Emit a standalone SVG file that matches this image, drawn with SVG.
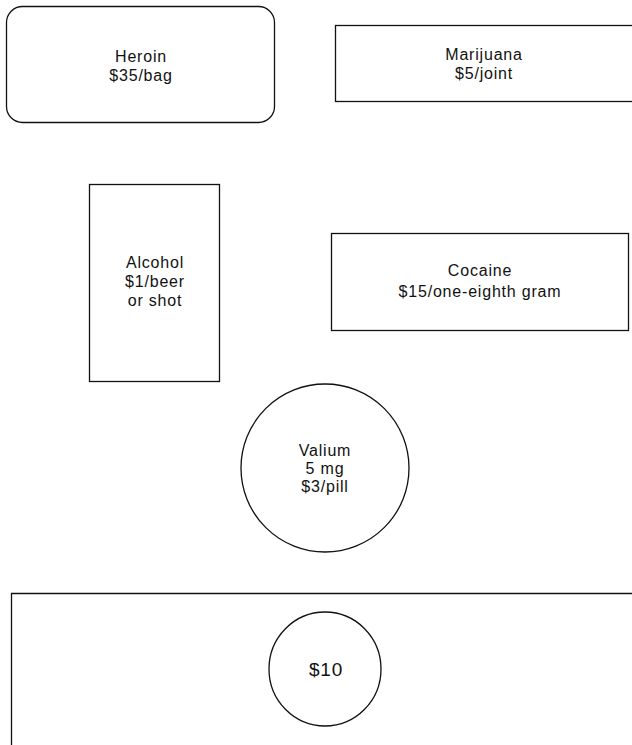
<svg xmlns="http://www.w3.org/2000/svg" width="632" height="745" viewBox="0 0 632 745">
<style>
.s{fill:#fff;stroke:#111;stroke-width:1.3}
text{font-family:"Liberation Sans",Arial,sans-serif;font-size:16px;letter-spacing:0.8px;fill:#111;text-anchor:middle}
</style>
<rect width="632" height="745" fill="#fff"/>
<g id="heroin"><rect class="s" x="6.5" y="6.5" width="268" height="116" rx="16"/><text x="141" y="62">Heroin</text><text x="141" y="81">$35/bag</text></g>
<g id="marijuana"><rect class="s" x="335.5" y="25.5" width="310" height="76"/><text x="484" y="60">Marijuana</text><text x="484" y="79">$5/joint</text></g>
<g id="alcohol"><rect class="s" x="89.5" y="184.5" width="130" height="197"/><text x="155" y="268">Alcohol</text><text x="155" y="287">$1/beer</text><text x="155" y="306">or shot</text></g>
<g id="cocaine"><rect class="s" x="331.5" y="233.5" width="297" height="97"/><text x="480" y="276">Cocaine</text><text x="480" y="297">$15/one-eighth gram</text></g>
<g id="valium"><circle class="s" cx="325" cy="468" r="84"/><text x="325" y="456">Valium</text><text x="325" y="474">5 mg</text><text x="325" y="492">$3/pill</text></g>
<g id="bottom"><path class="s" d="M11.5,760 V593.5 H645"/><ellipse class="s" cx="325" cy="669" rx="56" ry="57"/><text x="326" y="676" style="font-size:19px">$10</text></g>
<g id="connectors"/>
</svg>
